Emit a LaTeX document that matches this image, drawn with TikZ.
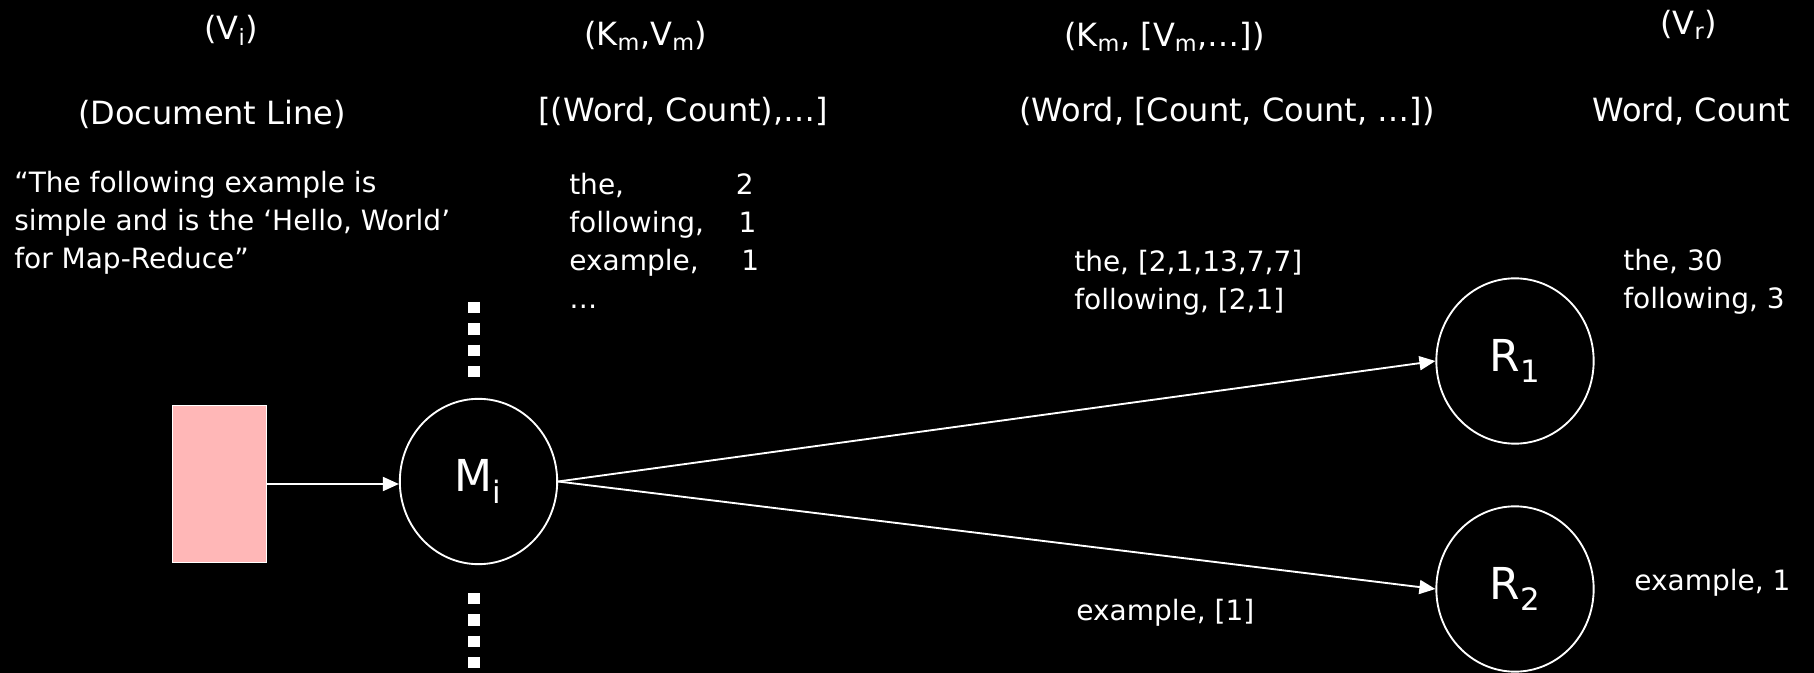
\documentclass[tikz,border=0pt]{standalone}
\usepackage{fontspec}
\setmainfont{DejaVu Sans}
\usepackage{tikz}
\usetikzlibrary{arrows.meta,shapes.geometric}

\begin{document}
\begin{tikzpicture}[x=0.75pt,y=0.75pt,yscale=-1,xscale=1,
    hdr/.style={text=white,inner sep=0.75pt,font=\fontsize{24}{29}\selectfont},
    txt/.style={text=white,inner sep=0.75pt,align=left,font=\fontsize{21}{28.5}\selectfont},
    task/.style={ellipse,draw=white,line width=1.4pt,minimum width=118pt,minimum height=124pt,inner sep=0pt,text=white,font=\fontsize{33}{40}\selectfont},
    docbox/.style={rectangle,draw=white,line width=1pt,fill={rgb,255:red,255;green,183;blue,183},minimum width=70.5pt,minimum height=117.5pt},
    flow/.style={draw=white,line width=1.4pt,-{Triangle[length=12pt,width=10.5pt]}},
    gap/.style={draw=white,line width=8.5pt,dash pattern=on 8.5pt off 7.5pt}]
        \useasboundingbox (0,0) rectangle (1814,673);
        \fill [black] (0,0) rectangle (1814,673);

        \draw (219.5,484) node (doc) [docbox] {};
        \draw (478.5,481.5) node (map) [task] {M\textsubscript{i}};
        \draw (1515,361) node (red1) [task] {R\textsubscript{1}};
        \draw (1515,589) node (red2) [task] {R\textsubscript{2}};

        \draw [flow] (doc.east) -- (doc.east -| map.west);
        \draw [flow] (map.east) -- (red1.west);
        \draw [flow] (map.east) -- (red2.west);

        \draw [gap] (474,302) -- (474,377);
        \draw [gap] (474,593) -- (474,668);

        \draw (203,40) node (vi) [anchor=base west][hdr] {(V\textsubscript{i})};
        \draw (583,46) node (kv) [anchor=base west][hdr] {(K\textsubscript{m},V\textsubscript{m})};
        \draw (1063,47) node (kvs) [anchor=base west][hdr] {(K\textsubscript{m}, [V\textsubscript{m},…])};
        \draw (1659,35) node (vr) [anchor=base west][hdr] {(V\textsubscript{r})};

        \draw (77,125) node (line) [anchor=base west][hdr] {(Document Line)};
        \draw (537,122) node (pairs) [anchor=base west][hdr] {[(Word, Count),…]};
        \draw (1018,122) node (groups) [anchor=base west][hdr] {(Word, [Count, Count, …])};
        \draw (1591,122) node (totals) [anchor=base west][hdr] {Word, Count};

        % base of a multi-line node sits on its last line
        \draw (13,269) node (quote) [anchor=base west][txt] {“The following example is\\simple and is the ‘Hello, World’\\for Map-Reduce”};
        \draw (568,309) node (maplist) [anchor=base west][txt] {\makebox[125pt][l]{the,}2\\\makebox[127pt][l]{following,}1\\\makebox[129pt][l]{example,}1\\…};
        \draw (1073,310) node (red1in) [anchor=base west][txt] {the, [2,1,13,7,7]\\following, [2,1]};
        \draw (1075,620) node (red2in) [anchor=base west][txt] {example, [1]};
        \draw (1622,309) node (red1out) [anchor=base west][txt] {the, 30\\following, 3};
        \draw (1633,590) node (red2out) [anchor=base west][txt] {example, 1};
    \end{tikzpicture}
\end{document}
